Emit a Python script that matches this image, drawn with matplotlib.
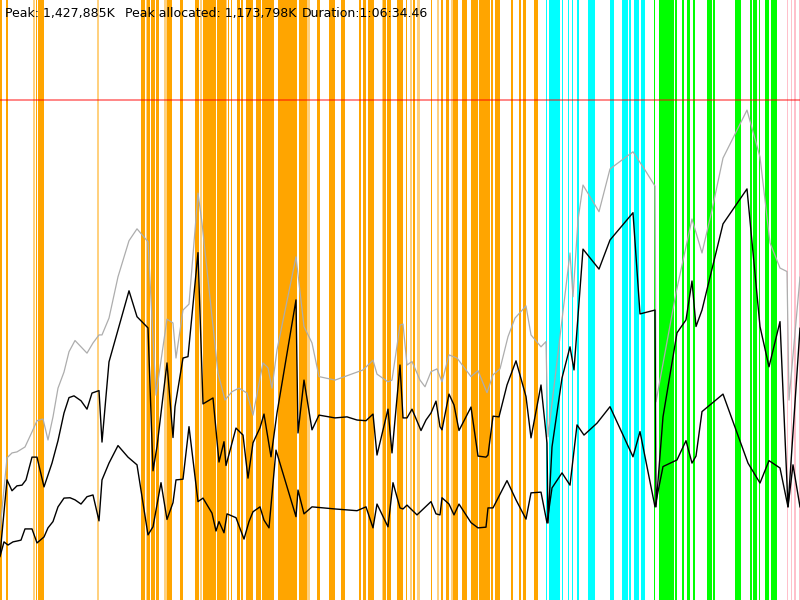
import numpy as np
import matplotlib
matplotlib.use("Agg")
import matplotlib.pyplot as plt

# header figures
peak_k = 1427885
peak_alloc_k = 1173798
duration = "1:06:34.46"

# memory (MB) sampled over time (time in 1/800 of the run)
t_heap = [0, 7, 12, 17, 25, 32, 37, 43, 48, 53, 58, 64, 69, 75, 81, 87, 93, 99, 102, 109,
          118, 129, 137, 148, 156, 167, 173, 176, 183, 189, 198, 202, 218, 225, 232, 239, 247,
          253, 263, 268, 272, 277, 296, 304, 312, 319, 335, 363, 373, 377, 388, 392, 400, 403,
          407, 412, 420, 425, 431, 437, 442, 449, 457, 471, 478, 487, 493, 500, 508, 515, 526,
          531, 541, 546, 548, 570, 573, 578, 583, 599, 610, 633, 645, 655, 656, 676, 692, 702,
          712, 723, 747, 760, 770, 780, 787, 789, 800]
heap_mb = [200, 406, 420, 423, 437, 480, 512, 517, 457, 523, 605, 651, 709, 741, 723, 705, 734,
           757, 757, 805, 923, 1026, 1060, 1023, 585, 802, 791, 691, 828, 845, 1162, 1077, 648,
           571, 595, 605, 591, 528, 677, 663, 605, 714, 980, 781, 734, 638, 628, 657, 685, 645,
           623, 628, 785, 788, 671, 681, 628, 609, 652, 660, 623, 700, 691, 638, 655, 592, 643,
           660, 752, 805, 840, 757, 723, 738, 466, 991, 866, 1085, 1185, 1109, 1231, 1280, 1228,
           1182, 566, 877, 1088, 991, 1114, 1262, 1399, 1265, 1020, 948, 938, 571, 922]

t_alloc = [0, 7, 12, 17, 22, 26, 32, 37, 44, 52, 58, 64, 69, 74, 81, 87, 92, 99, 102, 109,
           129, 137, 148, 153, 157, 167, 173, 175, 183, 188, 198, 203, 213, 219, 224, 226, 236,
           243, 248, 253, 260, 264, 271, 277, 296, 298, 304, 312, 319, 335, 347, 357, 366, 373,
           377, 388, 392, 400, 403, 407, 412, 421, 426, 431, 436, 440, 442, 449, 454, 459, 471,
           478, 486, 488, 493, 499, 507, 516, 526, 531, 541, 547, 548, 552, 562, 570, 574, 583,
           599, 610, 633, 640, 655, 656, 663, 677, 686, 692, 696, 702, 723, 747, 760, 769, 780,
           788, 800]
alloc_mb = [129, 343, 312, 326, 328, 343, 408, 408, 323, 391, 455, 534, 578, 583, 569, 545, 591,
            598, 451, 680, 883, 809, 777, 369, 438, 677, 464, 552, 691, 695, 992, 560, 577, 394,
            452, 384, 491, 471, 348, 449, 492, 531, 409, 534, 857, 477, 628, 486, 528, 520, 523,
            514, 512, 531, 414, 545, 420, 671, 520, 520, 545, 484, 514, 534, 568, 495, 486, 588,
            557, 484, 551, 411, 408, 414, 525, 523, 614, 683, 581, 463, 614, 448, 220, 437, 634,
            723, 657, 1002, 945, 1028, 1106, 817, 828, 266, 523, 763, 800, 911, 781, 828, 1074,
            1174, 781, 666, 795, 266, 776]

t_live = [0, 4, 8, 13, 18, 21, 25, 32, 37, 44, 48, 53, 58, 64, 70, 75, 81, 87, 93, 99, 102,
          109, 118, 128, 137, 148, 153, 161, 167, 173, 176, 183, 189, 198, 203, 212, 216, 219,
          224, 227, 236, 244, 249, 253, 260, 264, 269, 276, 296, 298, 304, 312, 335, 357, 366,
          373, 377, 388, 393, 400, 403, 407, 417, 431, 436, 440, 442, 449, 454, 459, 471, 478,
          486, 488, 493, 507, 516, 526, 531, 541, 547, 552, 562, 570, 577, 584, 597, 610, 633,
          640, 655, 663, 677, 686, 692, 696, 702, 723, 748, 760, 769, 780, 788, 793, 800]
live_mb = [124, 166, 157, 166, 169, 171, 203, 203, 163, 180, 206, 224, 266, 291, 292, 286, 274,
           295, 300, 226, 343, 391, 441, 408, 386, 186, 209, 335, 230, 278, 343, 345, 495, 281,
           291, 248, 197, 224, 192, 246, 235, 174, 224, 252, 266, 228, 206, 428, 238, 314, 246,
           266, 260, 255, 266, 206, 274, 209, 335, 263, 260, 271, 243, 281, 246, 243, 292, 274,
           243, 274, 221, 206, 208, 263, 263, 341, 286, 231, 306, 308, 220, 320, 363, 328, 500,
           471, 505, 552, 409, 481, 266, 381, 400, 455, 391, 411, 538, 588, 391, 334, 398, 377,
           266, 386, 266]

# collector pauses (start, end) per kind
young_start = [0, 6, 35.5, 37.7, 141, 147, 151.3, 156, 166.7, 180, 195, 203.3, 217.3, 228.3,
               230.7, 237.3, 241.3, 245.7, 256, 262, 278, 298.7, 317.3, 329.3, 341, 359.3, 363,
               368.3, 383, 387.3, 396.7, 400, 406, 412.7, 430.7, 440.7, 446, 452.7, 462, 470.7,
               479, 490.7, 495, 510.7, 518.7, 522.7, 534]
young_end = [2, 7.7, 37, 44, 145, 150, 155, 159, 171.7, 182.7, 199, 216, 226, 229.3, 232.3, 240,
             243.3, 253.3, 260.7, 274, 297.3, 306.7, 319.7, 335, 345, 361, 365.7, 373.7, 386,
             391, 400, 403.3, 407.3, 415, 432, 442.7, 449.3, 458, 466.7, 478.3, 490, 493.3, 500,
             512.7, 520.7, 526, 538.3]
short_start = [33.3, 97, 145.7, 164, 200, 226, 307.3, 381.7, 410, 416.7, 436.7, 450.7]
short_end = [35, 98.5, 146.7, 166.7, 201.5, 227.3, 310, 383, 412, 420, 438.7, 452.7]
mixed_start = [545.7, 549, 561.7, 568, 571.7, 577.3, 588.3, 610, 621.7, 629.3, 634, 641]
mixed_end = [547, 560, 563.3, 569.3, 573.3, 579, 595, 614.3, 628.3, 630.7, 638.7, 645]
old_start = [654, 658.7, 671.3, 675, 682, 687.3, 693, 706.7, 712.7, 735.3, 749.7, 752.7, 759,
             764.7, 771.3]
old_end = [655.3, 670.7, 674, 677.3, 684, 690, 695, 711.7, 715.3, 741, 752, 757.3, 760.3, 769,
           776.7]
full_start = [786.7, 791, 794, 799]
full_end = [788, 792.3, 796, 800]

peak_mb = peak_k / 1000
top_mb = peak_mb * 1.2

fig = plt.figure(figsize=(8, 6), dpi=100, facecolor='w')
ax = fig.add_axes([0, 0, 1, 1])
ax.set_xlim(0, 800)
ax.set_ylim(0, top_mb)
ax.axis('off')

for starts, ends, col, a in [(young_start, young_end, 'orange', 1.0),
                             (short_start, short_end, 'orange', 0.5),
                             (mixed_start, mixed_end, 'cyan', 1.0),
                             (old_start, old_end, 'lime', 1.0),
                             (full_start, full_end, 'pink', 1.0)]:
    for a0, a1 in zip(starts, ends):
        ax.axvspan(a0, a1, color=col, alpha=a, lw=0, zorder=1)

ax.axhline(peak_mb, color='red', alpha=0.6, lw=1.1, zorder=2)

ax.plot(t_heap, heap_mb, color='#adadad', lw=0.9, zorder=3)
ax.plot(t_alloc, alloc_mb, color='black', lw=1.0, zorder=4)
ax.plot(t_live, live_mb, color='black', lw=1.0, zorder=4)

fig.text(5 / 800, 1 - 17 / 600, "Peak: {:,}K".format(peak_k), fontsize=9, va='baseline')
fig.text(125 / 800, 1 - 17 / 600, "Peak allocated: {:,}K".format(peak_alloc_k), fontsize=9,
         va='baseline')
fig.text(302 / 800, 1 - 17 / 600, "Duration:" + duration, fontsize=9, va='baseline')

fig.savefig('out.png', dpi=100)
